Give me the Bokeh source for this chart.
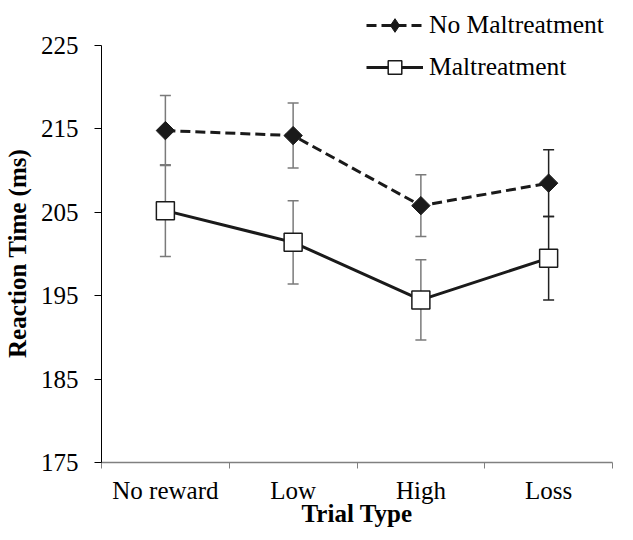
import math
from bokeh.plotting import figure
from bokeh.models import (ColumnDataSource, Range1d, FixedTicker, Whisker, TeeHead,
                          Legend, LegendItem)
from bokeh.embed import file_html
from bokeh.resources import INLINE

categories = ["No reward", "Low", "High", "Loss"]
no_malt = [214.8, 214.2, 205.8, 208.5]
no_malt_err = [4.2, 3.9, 3.7, 4.0]
malt = [205.2, 201.4, 194.5, 199.5]
malt_err = [5.5, 5.0, 4.8, 5.0]
y_ticks = [175, 185, 195, 205, 215, 225]

FONT = "Liberation Serif"
NBSP = "\u00a0"
x = [i + 0.5 for i in range(len(categories))]
bounds = list(range(len(categories) + 1))

p = figure(width=622, height=531, output_backend="svg", toolbar_location=None,
           x_range=Range1d(0, len(categories)), y_range=Range1d(175, 230.4),
           min_border_left=101, min_border_right=10, min_border_top=0, min_border_bottom=69)
p.outline_line_color = None
p.background_fill_color = "white"
p.border_fill_color = "white"
p.grid.visible = False

# x axis
xa = p.xaxis[0]
xa.ticker = FixedTicker(ticks=x, minor_ticks=bounds)
xa.major_label_overrides = {xv: c for xv, c in zip(x, categories)}
xa.major_tick_out = 0
xa.major_tick_in = 0
xa.minor_tick_out = 6
xa.minor_tick_in = 0
xa.minor_tick_line_color = "#808080"
xa.axis_line_color = "#808080"
xa.axis_line_width = 1.3
xa.major_label_text_font = FONT
xa.major_label_text_font_size = "25px"
xa.major_label_text_color = "black"
xa.major_label_standoff = 8
xa.axis_label = "Trial Type"
xa.axis_label_text_font = FONT
xa.axis_label_text_font_style = "bold"
xa.axis_label_text_font_size = "25px"
xa.axis_label_text_color = "black"
xa.axis_label_standoff = -7

# y axis
ya = p.yaxis[0]
ya.ticker = FixedTicker(ticks=y_ticks)
ya.bounds = (175, 225)
ya.minor_tick_line_color = None
ya.major_tick_out = 7
ya.major_tick_in = 0
ya.axis_line_color = "black"
ya.major_tick_line_color = "black"
ya.major_label_text_font = FONT
ya.major_label_text_font_size = "25px"
ya.major_label_text_color = "black"
ya.major_label_standoff = 16
# trailing no-break spaces keep the title centred on the 175-225 span
ya.axis_label = "Reaction Time (ms)" + NBSP * 7
ya.axis_label_text_font = FONT
ya.axis_label_text_font_style = "bold"
ya.axis_label_text_font_size = "25px"
ya.axis_label_text_color = "black"
ya.axis_label_standoff = 7

def add_whiskers(vals, errs, idx, color):
    src = ColumnDataSource(dict(
        x=[x[i] for i in idx],
        lo=[vals[i] - errs[i] for i in idx],
        hi=[vals[i] + errs[i] for i in idx]))
    w = Whisker(source=src, base="x", lower="lo", upper="hi", dimension="height",
                line_color=color, line_width=1.5,
                upper_head=TeeHead(size=11, line_color=color, line_width=1.5),
                lower_head=TeeHead(size=11, line_color=color, line_width=1.5))
    p.add_layout(w)

for vals, errs in [(no_malt, no_malt_err), (malt, malt_err)]:
    add_whiskers(vals, errs, [0, 1, 2], "#7a7a7a")
    add_whiskers(vals, errs, [3], "#222222")

src_nm = ColumnDataSource(dict(x=x, y=no_malt))
src_m = ColumnDataSource(dict(x=x, y=malt))

l1 = p.line("x", "y", source=src_nm, line_color="#1a1a1a", line_width=3, line_dash="10 5")
p.scatter("x", "y", source=src_nm, marker="square", size=13, angle=math.pi / 4,
          fill_color="#1a1a1a", line_color="#1a1a1a")
l2 = p.line("x", "y", source=src_m, line_color="#1a1a1a", line_width=3)
s2 = p.scatter("x", "y", source=src_m, marker="square", size=18,
               fill_color="white", line_color="#1a1a1a", line_width=1.5)

# legend-only marker (diamond shape for the legend swatch)
dummy = ColumnDataSource(dict(x=[float("nan")], y=[float("nan")]))
d1 = p.scatter("x", "y", source=dummy, marker="diamond", size=13,
               fill_color="#1a1a1a", line_color="#1a1a1a")

legend = Legend(items=[LegendItem(label="No Maltreatment", renderers=[l1, d1]),
                       LegendItem(label="Maltreatment", renderers=[l2, s2])],
                location=(265, 378), margin=0, padding=0, spacing=8,
                glyph_width=57, glyph_height=34, label_height=30, label_standoff=6,
                label_text_font=FONT, label_text_font_size="25.5px",
                label_text_color="black",
                border_line_color=None, background_fill_alpha=0)
p.add_layout(legend)

open("out.html", "w").write(file_html(p, INLINE))
